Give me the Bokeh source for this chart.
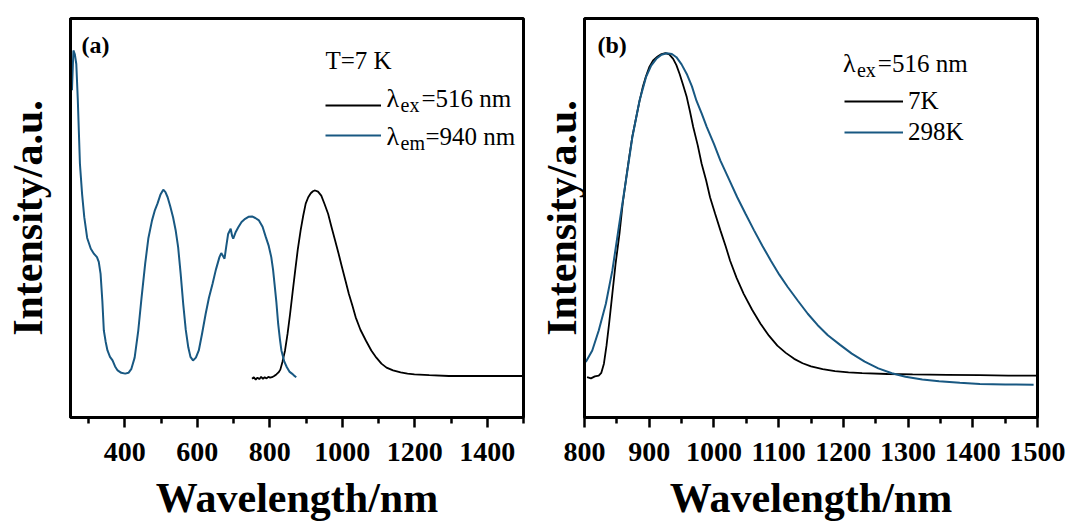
from bokeh.plotting import figure
from bokeh.models import Range1d, FixedTicker, Label, Legend, LegendItem
from bokeh.layouts import row
from bokeh.core.properties import value
from bokeh.embed import file_html
from bokeh.resources import INLINE

# ---------------- data: panel (a) ----------------
exc_wl = [254, 258, 262, 266, 270, 276, 282, 288, 296, 306, 315, 323, 328, 333, 338, 342, 347, 352, 359, 366,
          373, 380, 390, 401, 410, 418, 427, 437, 446, 456, 465, 475, 483, 490, 498, 506, 512, 518, 525, 533,
          540, 547, 554, 561, 568, 575, 581, 588, 596, 604, 613, 623, 632, 642, 651, 661, 666, 670, 675, 680,
          685, 692, 696, 699, 706, 713, 722, 732, 741, 751, 760, 770, 780, 789, 797, 804, 809, 813, 818, 823,
          828, 832, 840, 847, 854, 861, 867, 873]
exc_int = [0.82, 0.92, 0.91, 0.886, 0.80, 0.636, 0.56, 0.502, 0.45, 0.423, 0.41, 0.402, 0.39, 0.36, 0.29, 0.218,
           0.19, 0.168, 0.152, 0.143, 0.128, 0.118, 0.112, 0.110, 0.112, 0.122, 0.15, 0.218, 0.30, 0.385,
           0.45, 0.494, 0.52, 0.536, 0.558, 0.571, 0.565, 0.552, 0.53, 0.502, 0.47, 0.427, 0.36, 0.285, 0.22,
           0.176, 0.152, 0.143, 0.150, 0.168, 0.21, 0.260, 0.30, 0.335, 0.37, 0.402, 0.412, 0.406, 0.398, 0.43,
           0.460, 0.473, 0.455, 0.448, 0.465, 0.477, 0.49, 0.498, 0.503, 0.504, 0.50, 0.494, 0.478, 0.452, 0.43,
           0.402, 0.37, 0.335, 0.29, 0.235, 0.195, 0.168, 0.14, 0.126, 0.115, 0.110, 0.105, 0.101]

em_wl = [751, 756, 761, 766, 771, 776, 781, 786, 791, 796, 801, 806, 812, 818, 824, 829, 835, 842, 849, 856,
         863, 870, 877, 885, 892, 899, 906, 913, 919, 925, 933, 942, 951, 961, 970, 980, 990, 999, 1009, 1018,
         1028, 1037, 1050, 1065, 1080, 1094, 1108, 1122, 1140, 1161, 1180, 1199, 1240, 1294, 1350, 1400, 1450, 1497]
em_int = [0.097, 0.101, 0.095, 0.100, 0.096, 0.102, 0.097, 0.101, 0.098, 0.102, 0.100, 0.101, 0.104, 0.108,
          0.113, 0.120, 0.14, 0.168, 0.21, 0.260, 0.315, 0.368, 0.42, 0.469, 0.505, 0.536, 0.552, 0.562, 0.567,
          0.569, 0.566, 0.556, 0.535, 0.510, 0.478, 0.444, 0.41, 0.377, 0.342, 0.310, 0.28, 0.251, 0.22, 0.193,
          0.168, 0.150, 0.135, 0.125, 0.118, 0.113, 0.110, 0.108, 0.106, 0.104, 0.104, 0.104, 0.104, 0.104]

# ---------------- data: panel (b) ----------------
k7_wl = [804, 810, 816, 822, 826, 830, 834, 838, 843, 848, 854, 859, 864, 869, 874, 880, 885, 890, 895, 900,
         906, 913, 919, 925, 931, 937, 942, 947, 952, 958, 963, 968, 975, 981, 988, 994, 1002, 1010, 1018, 1025,
         1035, 1046, 1059, 1072, 1085, 1098, 1111, 1124, 1137, 1150, 1168, 1187, 1208, 1229, 1268, 1307, 1360,
         1411, 1455, 1499]
k7_int = [0.101, 0.098, 0.103, 0.105, 0.112, 0.135, 0.18, 0.235, 0.31, 0.385, 0.46, 0.536, 0.595, 0.652, 0.705,
          0.753, 0.793, 0.828, 0.855, 0.878, 0.895, 0.905, 0.911, 0.913, 0.910, 0.899, 0.883, 0.861, 0.835, 0.803,
          0.767, 0.728, 0.682, 0.636, 0.594, 0.552, 0.510, 0.469, 0.430, 0.393, 0.350, 0.310, 0.270, 0.235, 0.205,
          0.180, 0.162, 0.147, 0.136, 0.128, 0.121, 0.116, 0.113, 0.111, 0.109, 0.108, 0.107, 0.106, 0.105, 0.105]

k298_wl = [802, 812, 822, 833, 843, 853, 864, 874, 885, 895, 903, 911, 919, 927, 935, 942, 950, 958, 966, 973,
           981, 989, 1000, 1010, 1023, 1036, 1049, 1062, 1075, 1088, 1101, 1114, 1130, 1145, 1160, 1176, 1195,
           1213, 1233, 1254, 1275, 1296, 1322, 1348, 1380, 1411, 1450, 1494]
k298_int = [0.139, 0.168, 0.218, 0.285, 0.368, 0.477, 0.594, 0.703, 0.794, 0.853, 0.882, 0.899, 0.909, 0.913,
            0.911, 0.903, 0.885, 0.861, 0.830, 0.794, 0.762, 0.728, 0.686, 0.644, 0.598, 0.552, 0.510, 0.469,
            0.430, 0.393, 0.358, 0.327, 0.292, 0.260, 0.232, 0.206, 0.182, 0.160, 0.140, 0.123, 0.111, 0.102,
            0.095, 0.091, 0.087, 0.084, 0.083, 0.082]

a_major = [400, 600, 800, 1000, 1200, 1400]
a_minor = [300, 500, 700, 900, 1100, 1300, 1500]
b_major = [800, 900, 1000, 1100, 1200, 1300, 1400, 1500]
b_minor = [850, 950, 1050, 1150, 1250, 1350, 1450]

BLUE = "#185882"
SERIF = "Liberation Serif"
H = 523
FRAME_TOP = 18
FRAME_BOTTOM = 417
TEXT_SHIFT = 9  # annotation baseline correction (px)


def make_fig(xr, width, mbl, mbr, ylab_standoff, major, minor):
    p = figure(width=width, height=H, x_range=Range1d(*xr), y_range=Range1d(0, 1),
               output_backend="svg", toolbar_location=None,
               min_border_left=mbl, min_border_right=mbr, min_border_top=FRAME_TOP, min_border_bottom=0,
               background_fill_color="white", border_fill_color="white")
    p.grid.visible = False
    p.outline_line_color = "black"
    p.outline_line_width = 3
    p.outline_line_alpha = 1

    xa = p.xaxis[0]
    xa.ticker = FixedTicker(ticks=major, minor_ticks=minor)
    xa.axis_line_width = 3
    xa.major_tick_out = 10
    xa.major_tick_in = 0
    xa.minor_tick_out = 6
    xa.minor_tick_in = 0
    xa.major_tick_line_width = 2.5
    xa.minor_tick_line_width = 2.5
    xa.major_label_text_font = SERIF
    xa.major_label_text_font_style = "bold"
    xa.major_label_text_font_size = "28px"
    xa.major_label_text_color = "black"
    xa.major_label_standoff = 15
    xa.axis_label = "Wavelength/nm"
    xa.axis_label_text_font = SERIF
    xa.axis_label_text_font_style = "bold"
    xa.axis_label_text_font_size = "42px"
    xa.axis_label_text_color = "black"
    xa.axis_label_standoff = 11

    ya = p.yaxis[0]
    ya.ticker = FixedTicker(ticks=[])
    ya.axis_line_width = 3
    ya.major_tick_out = 0
    ya.major_tick_in = 0
    ya.minor_tick_out = 0
    ya.minor_tick_in = 0
    ya.major_label_standoff = 0
    ya.axis_label = "Intensity/a.u."
    ya.axis_label_text_font = SERIF
    ya.axis_label_text_font_style = "bold"
    ya.axis_label_text_font_size = "42px"
    ya.axis_label_text_color = "black"
    ya.axis_label_standoff = ylab_standoff
    return p


def add_text(p, x, y, text, size, bold=False):
    p.add_layout(Label(x=x, y=y, text=text, text_font=SERIF, text_font_size=size,
                       text_font_style="bold" if bold else "normal", text_color="black",
                       text_baseline="alphabetic", text_align="left"))


def py2y(py):
    py = py - TEXT_SHIFT
    return (FRAME_BOTTOM - py) / (FRAME_BOTTOM - FRAME_TOP)


# ---------------- panel (a) ----------------
A_RANGE = (250, 1500)
A_LEFT, A_W = 70, 453
p1 = make_fig(A_RANGE, 535, A_LEFT, 12, 20, a_major, a_minor)

r_em = p1.line(em_wl, em_int, line_color="black", line_width=1.8)
r_exc = p1.line(exc_wl, exc_int, line_color=BLUE, line_width=2)


def ax(px):
    return A_RANGE[0] + (px - A_LEFT) * (A_RANGE[1] - A_RANGE[0]) / A_W


leg1 = Legend(items=[LegendItem(label=value(" "), renderers=[r_em]),
                     LegendItem(label=value(" "), renderers=[r_exc])],
              location=(255, 272), orientation="vertical", padding=0, margin=0, spacing=10,
              glyph_width=56, glyph_height=20, label_height=20, label_width=1, label_standoff=0,
              label_text_font_size="1px", border_line_alpha=0, background_fill_alpha=0)
p1.add_layout(leg1)

add_text(p1, ax(81), py2y(53), "(a)", "24px", bold=True)
add_text(p1, ax(325), py2y(69), "T=7 K", "25px")
add_text(p1, ax(386), py2y(107), "λ", "26px")
add_text(p1, ax(400), py2y(113), "ex", "20px")
add_text(p1, ax(421), py2y(107), "=516 nm", "25px")
add_text(p1, ax(386), py2y(145), "λ", "26px")
add_text(p1, ax(400), py2y(151), "em", "20px")
add_text(p1, ax(425), py2y(145), "=940 nm", "25px")

# ---------------- panel (b) ----------------
B_RANGE = (800, 1500)
B_LEFT, B_W = 583, 454
p2 = make_fig(B_RANGE, 532, 48, 30, 0, b_major, b_minor)

r7 = p2.line(k7_wl, k7_int, line_color="black", line_width=1.8)
r298 = p2.line(k298_wl, k298_int, line_color=BLUE, line_width=2)


def bx(px):
    return B_RANGE[0] + (px - B_LEFT) * (B_RANGE[1] - B_RANGE[0]) / B_W


leg2 = Legend(items=[LegendItem(label=value("7K"), renderers=[r7]),
                     LegendItem(label=value("298K"), renderers=[r298])],
              location=(260, 271), orientation="vertical", padding=0, margin=0, spacing=3,
              glyph_width=59, glyph_height=20, label_height=20, label_standoff=5,
              label_text_font=SERIF, label_text_font_size="25px", label_text_color="black",
              border_line_alpha=0, background_fill_alpha=0)
p2.add_layout(leg2)

add_text(p2, bx(596), py2y(53), "(b)", "24px", bold=True)
add_text(p2, bx(842), py2y(72), "λ", "26px")
add_text(p2, bx(856), py2y(78), "ex", "20px")
add_text(p2, bx(877), py2y(72), "=516 nm", "25px")

layout = row(p1, p2)
open("out.html", "w").write(file_html(layout, INLINE))
